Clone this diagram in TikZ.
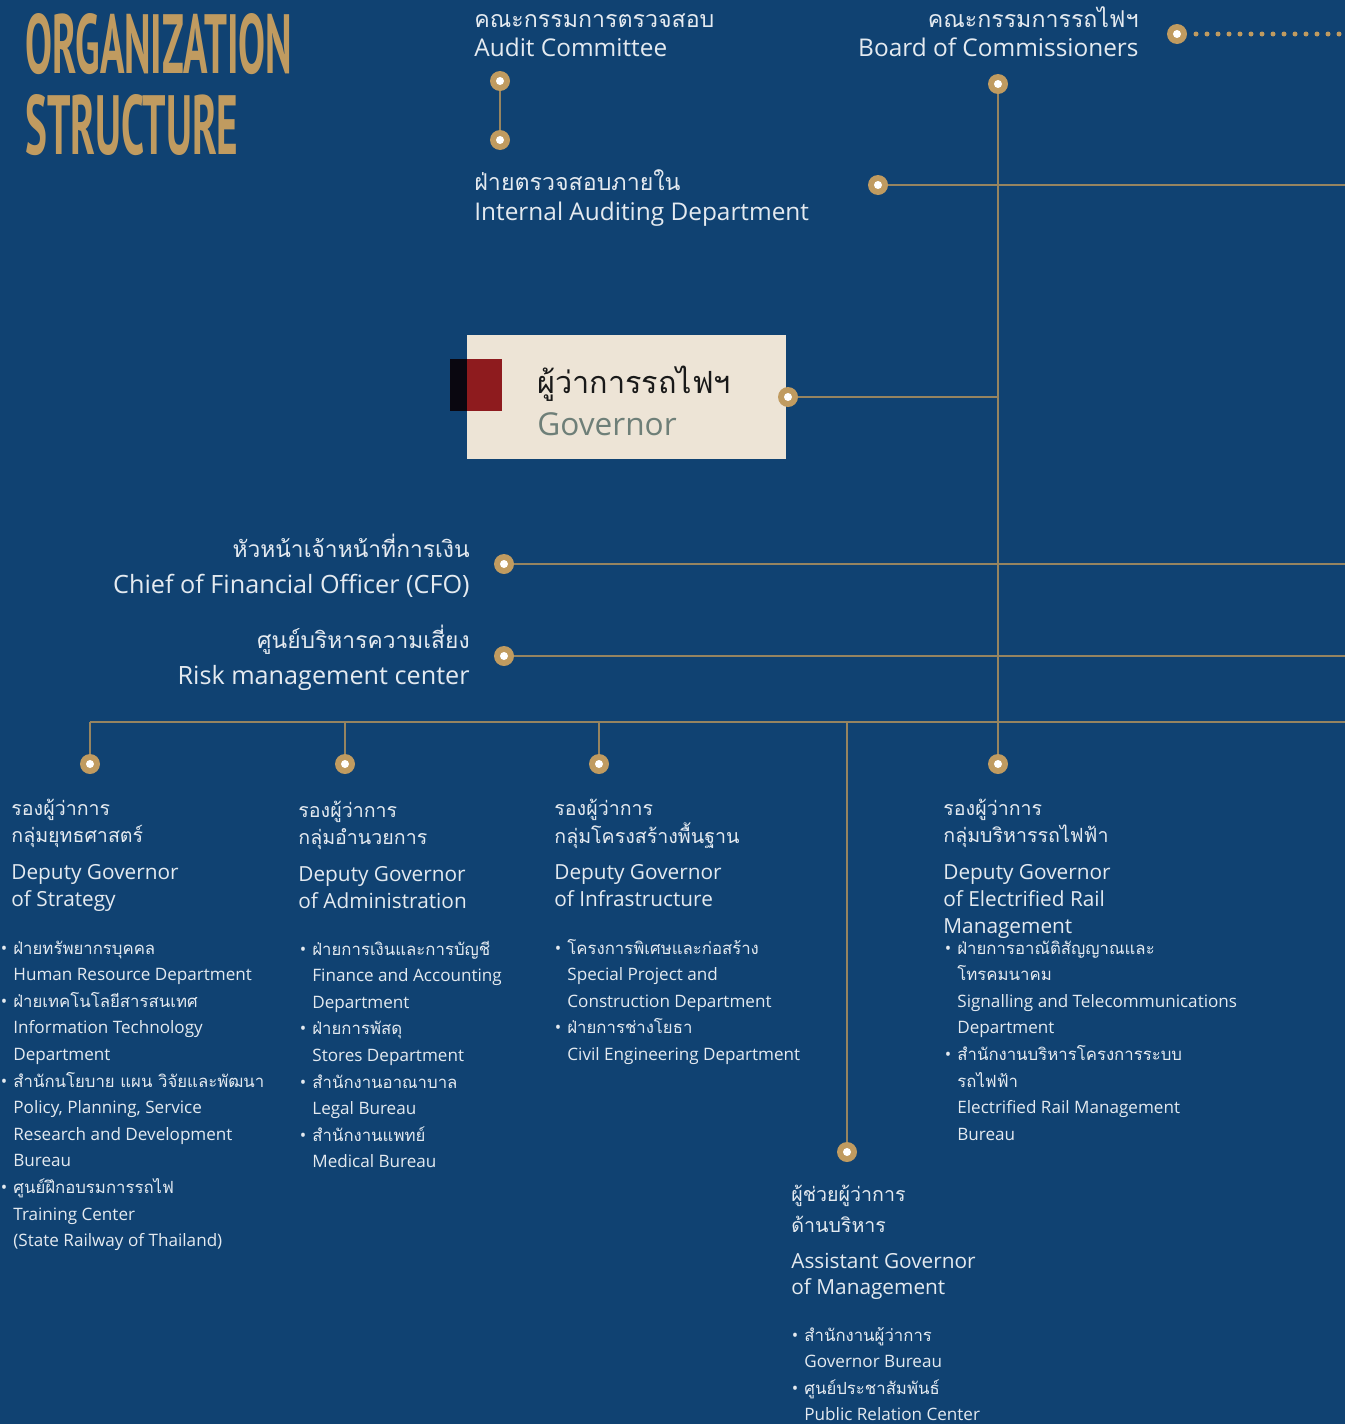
\documentclass[tikz,border=0pt]{standalone}
\usepackage{fontspec}
\setmainfont{Open Sans}
\newfontfamily\thaifont[Script=Thai]{Loma}
\newfontfamily\thaitop[Script=Thai,Scale=0.95]{Loma}
\newfontfamily\thaiside[Script=Thai,Scale=0.905]{Loma}
\newfontfamily\thaiitem[Script=Thai,Scale=0.98]{Loma}
\newfontfamily\titlefont{PT Sans}
\usetikzlibrary{positioning}
\definecolor{srtblue}{RGB}{16,66,114}
\definecolor{srtgold}{RGB}{192,155,96}
\definecolor{srtline}{RGB}{150,132,96}
\definecolor{srttext}{RGB}{228,234,240}
\definecolor{srtcream}{RGB}{237,228,214}
\definecolor{srtred}{RGB}{142,27,30}
\definecolor{srtink}{RGB}{10,7,16}
\definecolor{srtgrey}{RGB}{110,127,120}
\newcommand{\srtrows}[2][l]{\begin{tabular}[t]{@{}#1@{}}#2\end{tabular}}
\newcommand{\srtbul}{\llap{\textbullet\hspace{3pt}}}

\begin{document}
\begin{tikzpicture}[x=0.5pt, y=-0.5pt,
    link/.style={draw=srtline, line width=0.75pt},
    knob/.style={circle, fill=srtgold, inner sep=0pt, minimum size=10pt,
      path picture={\fill[white] (path picture bounding box.center) circle (2pt);}},
    toptext/.style={anchor=base west, inner sep=0pt, text=srttext, font=\fontsize{12.2}{14.5}\selectfont},
    sidetext/.style={anchor=base east, inner sep=0pt, text=srttext, font=\fontsize{12.6}{18}\selectfont},
    headthai/.style={anchor=base west, inner sep=0pt, text=srttext, font=\thaifont\fontsize{9.8}{13.5}\selectfont},
    headtext/.style={anchor=base west, inner sep=0pt, text=srttext, font=\fontsize{10.4}{13.5}\selectfont},
    itemtext/.style={anchor=base west, inner sep=0pt, text=srttext, font=\fontsize{8.55}{13.3}\selectfont},
    govbox/.style={anchor=north west, fill=srtcream, inner sep=0pt, minimum width=159.5pt, minimum height=62pt}]

  % Background
  \fill[srtblue] (0,0) rectangle (1345,1424);
  \useasboundingbox (0,0) rectangle (1345,1424);

  % Title
  \node[anchor=north west, inner sep=0pt, text=srtgold] (title1) at (25,13)
    {\resizebox{133.5pt}{30pt}{\titlefont\bfseries ORGANIZATION}};
  \node[anchor=north west, inner sep=0pt, text=srtgold] (title2) at (25,94)
    {\resizebox{106.5pt}{30pt}{\titlefont\bfseries STRUCTURE}};

  % Committees
  \node[toptext] (audit) at (474,27) {\srtrows{\thaitop คณะกรรมการตรวจสอบ\\Audit Committee}};
  \node[toptext] (intaud) at (474,190) {\srtrows{\thaitop ฝ่ายตรวจสอบภายใน\\[0.5pt]Internal Auditing Department}};
  \node[anchor=base east, inner sep=0pt, text=srttext, font=\fontsize{12.2}{14.5}\selectfont] (board) at (1139,27)
    {\srtrows[r]{\thaitop คณะกรรมการรถไฟฯ\\Board of Commissioners}};

  \node[knob] (auditk) at (500,81) {};
  \node[knob] (intaudk) at (500,140) {};
  \node[knob] (boardk) at (998,84) {};
  \node[knob] (boardr) at (1177,34) {};
  \node[knob] (iak) at (878,185) {};
  \coordinate (dotend) at (1345,34);
  \coordinate (iaend) at (1345,185);

  \draw[link] (auditk) -- (intaudk);
  \draw[srtgold, line width=2.5pt, line cap=round, dash pattern=on 0pt off 5.5pt] ([xshift=9.5pt]boardr.center) -- (dotend);
  \draw[link] (iak) -- (iaend);

  % Governor
  \node[govbox] (gov) at (467,335) {};
  \fill[srtink] (450,359) rectangle (467,411);
  \fill[srtred] (467,359) rectangle (502,411);
  \node[anchor=base west, inner sep=0pt, text=black!90, font=\thaifont\fontsize{15.3}{18}\selectfont] (govth) at (537,393) {ผู้ว่าการรถไฟฯ};
  \node[anchor=base west, inner sep=0pt, text=srtgrey, font=\fontsize{15.8}{18}\selectfont] (goven) at (537,435) {Governor};
  \node[knob] (govk) at (788,397) {};

  % CFO and risk
  \node[sidetext] (cfo) at (470,557) {\srtrows[r]{\thaiside หัวหน้าเจ้าหน้าที่การเงิน\\Chief of Financial Officer (CFO)}};
  \node[sidetext] (risk) at (470,648) {\srtrows[r]{\thaiside ศูนย์บริหารความเสี่ยง\\Risk management center}};
  \node[knob] (cfok) at (504,564) {};
  \node[knob] (riskk) at (504,656) {};
  \coordinate (cfoend) at (1345,564);
  \coordinate (riskend) at (1345,656);

  % Deputies
  \node[knob] (dgsk) at (90,764) {};
  \node[knob] (dgak) at (345,764) {};
  \node[knob] (dgik) at (599,764) {};
  \node[knob] (dgek) at (998,764) {};
  \node[knob] (agmk) at (847,1152) {};
  \coordinate (busW) at (90,722);
  \coordinate (busE) at (1345,722);

  % Connectors
  \draw[link] (boardk) -- (dgek);
  \draw[link] (govk) -- (govk -| boardk);
  \draw[link] (cfok) -- (cfoend);
  \draw[link] (riskk) -- (riskend);
  \draw[link] (busW) -- (busE);
  \draw[link] (dgsk) -- (dgsk |- busW);
  \draw[link] (dgak) -- (dgak |- busW);
  \draw[link] (dgik) -- (dgik |- busW);
  \draw[link] (agmk) -- (agmk |- busW);

  % Strategy
  \node[headthai] (dgsth) at (11,815) {\srtrows{รองผู้ว่าการ\\กลุ่มยุทธศาสตร์}};
  \node[headtext] (dgsen) at (11,879) {\srtrows{Deputy Governor\\of Strategy}};
  \node[itemtext] (dgsl) at (13,954) {\srtrows{%
    \srtbul\thaiitem ฝ่ายทรัพยากรบุคคล\\Human Resource Department\\
    \srtbul\thaiitem ฝ่ายเทคโนโลยีสารสนเทศ\\Information Technology\\Department\\
    \srtbul\thaiitem สำนักนโยบาย แผน วิจัยและพัฒนา\\Policy, Planning, Service\\Research and Development\\Bureau\\
    \srtbul\thaiitem ศูนย์ฝึกอบรมการรถไฟ\\Training Center\\(State Railway of Thailand)}};

  % Administration
  \node[headthai] (dgath) at (298,817) {\srtrows{รองผู้ว่าการ\\กลุ่มอำนวยการ}};
  \node[headtext] (dgaen) at (298,881) {\srtrows{Deputy Governor\\of Administration}};
  \node[itemtext] (dgal) at (312,955) {\srtrows{%
    \srtbul\thaiitem ฝ่ายการเงินและการบัญชี\\Finance and Accounting\\Department\\
    \srtbul\thaiitem ฝ่ายการพัสดุ\\Stores Department\\
    \srtbul\thaiitem สำนักงานอาณาบาล\\Legal Bureau\\
    \srtbul\thaiitem สำนักงานแพทย์\\Medical Bureau}};

  % Infrastructure
  \node[headthai] (dgith) at (554,815) {\srtrows{รองผู้ว่าการ\\กลุ่มโครงสร้างพื้นฐาน}};
  \node[headtext] (dgien) at (554,879) {\srtrows{Deputy Governor\\of Infrastructure}};
  \node[itemtext] (dgil) at (567,954) {\srtrows{%
    \srtbul\thaiitem โครงการพิเศษและก่อสร้าง\\Special Project and\\Construction Department\\
    \srtbul\thaiitem ฝ่ายการช่างโยธา\\Civil Engineering Department}};

  % Electrified rail
  \node[headthai] (dgeth) at (943,815) {\srtrows{รองผู้ว่าการ\\กลุ่มบริหารรถไฟฟ้า}};
  \node[headtext] (dgeen) at (943,879) {\srtrows{Deputy Governor\\of Electrified Rail\\Management}};
  \node[itemtext] (dgel) at (957,954) {\srtrows{%
    \srtbul\thaiitem ฝ่ายการอาณัติสัญญาณและ\\\thaiitem โทรคมนาคม\\Signalling and Telecommunications\\Department\\
    \srtbul\thaiitem สำนักงานบริหารโครงการระบบ\\\thaiitem รถไฟฟ้า\\Electrified Rail Management\\Bureau}};

  % Assistant governor
  \node[headthai, font=\thaifont\fontsize{9.8}{15.5}\selectfont] (agmth) at (791,1201) {\srtrows{ผู้ช่วยผู้ว่าการ\\ด้านบริหาร}};
  \node[headtext, font=\fontsize{10.4}{13}\selectfont] (agmen) at (791,1268) {\srtrows{Assistant Governor\\of Management}};
  \node[itemtext] (agml) at (804,1341) {\srtrows{%
    \srtbul\thaiitem สำนักงานผู้ว่าการ\\Governor Bureau\\
    \srtbul\thaiitem ศูนย์ประชาสัมพันธ์\\Public Relation Center}};
\end{tikzpicture}
\end{document}
